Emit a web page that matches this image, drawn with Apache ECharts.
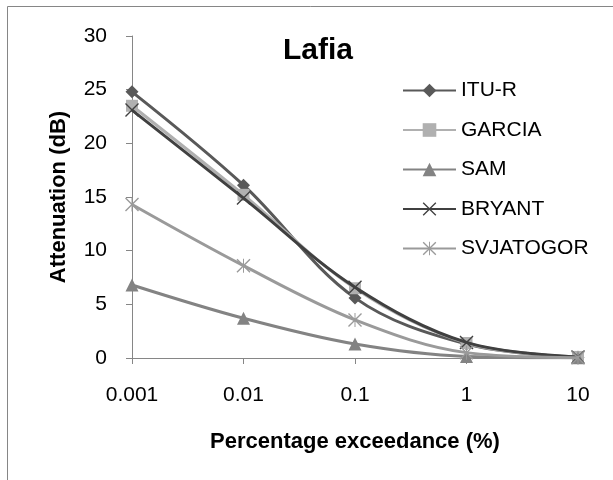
<!DOCTYPE html>
<html>
<head>
<meta charset="utf-8">
<script src="https://cdn.jsdelivr.net/npm/echarts@6/dist/echarts.min.js"></script>
<style>
html,body{margin:0;padding:0;background:#fff;}
#chart{width:613px;height:480px;}
</style>
</head>
<body>
<div id="chart"></div>
<script>
var categories = ['0.001', '0.01', '0.1', '1', '10'];
var yTicks = [0, 5, 10, 15, 20, 25, 30];
var seriesNames = ['ITU-R', 'GARCIA', 'SAM', 'BRYANT', 'SVJATOGOR'];
var ituR = [24.8, 16.1, 5.6, 1.3, 0.05];
var garcia = [23.5, 15.2, 6.5, 1.4, 0.1];
var sam = [6.8, 3.7, 1.3, 0.15, 0.02];
var bryant = [23.1, 14.9, 6.6, 1.45, 0.1];
var svjatogor = [14.3, 8.6, 3.55, 0.5, 0.03];

var FONT = "'Liberation Sans', Arial, sans-serif";
var X_SYM = 'path://M0,1.4L1.4,0L10,8.6L18.6,0L20,1.4L11.4,10L20,18.6L18.6,20L10,11.4L1.4,20L0,18.6L8.6,10Z';
var STAR_SYM = 'path://M0,1.4L1.4,0L10,8.6L18.6,0L20,1.4L11.4,10L20,18.6L18.6,20L10,11.4L1.4,20L0,18.6L8.6,10Z M9.3,0L10.7,0L10.7,20L9.3,20Z';

var styles = [
  {color: '#595959', symbol: 'diamond', size: 13},
  {color: '#b0b0b0', symbol: 'rect', size: 12},
  {color: '#838383', symbol: 'triangle', size: 13},
  {color: '#404040', symbol: X_SYM, size: 14},
  {color: '#9a9a9a', symbol: STAR_SYM, size: 14}
];
var values = [ituR, garcia, sam, bryant, svjatogor];

var series = seriesNames.map(function (name, i) {
  var s = styles[i];
  return {
    name: name,
    type: 'line',
    data: values[i],
    smooth: 0.35,
    symbol: s.symbol,
    symbolSize: s.size,
    showAllSymbol: true,
    lineStyle: {color: s.color, width: 3},
    itemStyle: {color: s.color},
    emphasis: {disabled: true},
    animation: false,
    z: 2 + i
  };
});

var chart = echarts.init(document.getElementById('chart'), null, {renderer: 'canvas'});
chart.setOption({
  backgroundColor: '#ffffff',
  animation: false,
  title: {
    text: 'Lafia',
    left: 313,
    top: 31,
    textAlign: 'center',
    textStyle: {fontFamily: FONT, fontSize: 30, fontWeight: 'bold', color: '#000'}
  },
  graphic: [{
    type: 'rect',
    shape: {x: 7.5, y: 6.5, width: 700, height: 600},
    style: {fill: 'none', stroke: '#868686', lineWidth: 1},
    silent: true,
    z: -10
  }],
  legend: {
    orient: 'vertical',
    left: 402,
    top: 80,
    padding: 0,
    itemWidth: 53,
    itemHeight: 17,
    itemGap: 18.5,
    data: seriesNames,
    textStyle: {fontFamily: FONT, fontSize: 21, color: '#000'}
  },
  grid: {left: 132, right: 35, top: 36, bottom: 122, containLabel: false},
  xAxis: {
    type: 'category',
    data: categories,
    boundaryGap: false,
    axisLine: {lineStyle: {color: '#868686', width: 1}},
    axisTick: {show: true, inside: false, length: 6, alignWithLabel: true, lineStyle: {color: '#868686'}},
    axisLabel: {fontFamily: FONT, fontSize: 21, color: '#000', margin: 27},
    splitLine: {show: false},
    name: 'Percentage exceedance (%)',
    nameLocation: 'middle',
    nameGap: 73,
    nameTextStyle: {fontFamily: FONT, fontSize: 22, fontWeight: 'bold', color: '#000'}
  },
  yAxis: {
    type: 'value',
    min: yTicks[0],
    max: yTicks[yTicks.length - 1],
    interval: yTicks[1] - yTicks[0],
    axisLine: {show: true, lineStyle: {color: '#868686', width: 1}},
    axisTick: {show: true, inside: false, length: 6, lineStyle: {color: '#868686'}},
    axisLabel: {fontFamily: FONT, fontSize: 21, color: '#000', margin: 25},
    splitLine: {show: false},
    name: 'Attenuation (dB)',
    nameLocation: 'middle',
    nameGap: 62,
    nameTextStyle: {fontFamily: FONT, fontSize: 22, fontWeight: 'bold', color: '#000'}
  },
  series: series
});
</script>
</body>
</html>
